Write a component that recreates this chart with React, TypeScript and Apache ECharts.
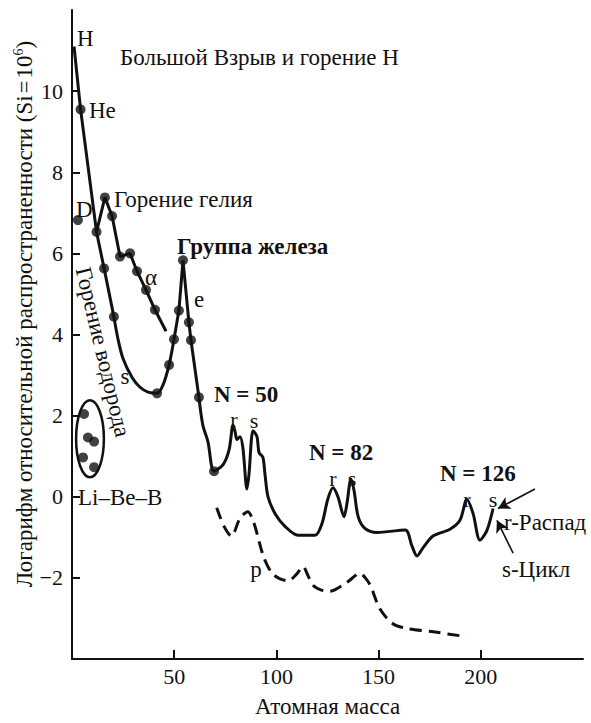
import React, { useEffect, useRef } from 'react';
import * as echarts from 'echarts';

// H burning (straight part)
const hLine = [[1, 11.1], [4.2, 9.55], [12, 6.53], [15.7, 5.63], [20.5, 4.44]];
// s-process trough
const sCurve = [[20.5, 4.44], [22.5, 3.89], [25, 3.4], [29.4, 2.94], [33.3, 2.7], [37.2, 2.58], [41.6, 2.55], [44.5, 2.75], [47.5, 3.25], [49.9, 3.88]];
// iron group peak
const feLine = [[49.9, 3.88], [52.3, 4.59], [54.3, 5.83], [57.2, 4.3], [58.2, 3.86], [62.1, 2.45]];
// heavy elements tail
const tail = [[62.1, 2.45], [64, 1.77], [66.5, 1.36], [69.5, 0.63], [74, 0.8], [76.9, 1.17], [78.8, 1.77], [79.8, 1.6], [80.7, 1.41], [82.2, 1.48], [83.6, 1.21], [85.6, 0.19], [86.6, 0.56], [88.6, 1.63], [90.5, 1.48], [91.5, 1.09], [93.4, 0.97], [94.4, 0.56], [95.9, 0], [99.3, -0.41], [104.2, -0.73], [110.6, -0.95], [118.9, -0.95], [122.3, -0.66], [125.2, -0.05], [127.7, 0.22], [130.1, 0], [133.1, -0.49], [134.5, -0.17], [136.5, 0.44], [138, 0.15], [140, -0.49], [143.3, -0.78], [149.2, -0.88], [163, -0.82], [166.3, -1.21], [168.8, -1.46], [171.7, -1.26], [176.6, -0.97], [184.9, -0.8], [189.8, -0.58], [193.2, -0.07], [196.2, -0.41], [199.6, -1.07], [203, -0.83], [206, -0.29]];
// helium burning (alpha)
const alphaLine = [[12, 6.53], [16.1, 7.38], [19.6, 6.92], [23.5, 5.92], [28.4, 6.0], [31.8, 5.56], [36.2, 5.1], [40.6, 4.61], [46, 4.08]];
// p-process (dashed)
const pCurve = [[70.8, -0.27], [74.4, -0.73], [78, -0.97], [82.2, -0.53], [86, -0.37], [89, -0.65], [93.6, -1.46], [97.6, -1.87], [101.5, -2.02], [105.8, -2.07], [110, -1.9], [113, -1.72], [115.5, -1.95], [118, -2.19], [122, -2.3], [126, -2.33], [134.5, -2.11], [141, -1.89], [143.5, -2.0], [146, -2.19], [150.7, -2.77], [157, -3.13], [164, -3.25], [176.7, -3.33], [193, -3.45]];
// measured points
const dots = [[4.2, 9.55], [2.9, 6.82], [12, 6.53], [15.7, 5.63], [20.5, 4.44], [41.6, 2.55], [47.5, 3.25], [49.9, 3.88], [52.3, 4.59], [54.3, 5.83], [57.2, 4.3], [58.2, 3.86], [62.1, 2.45], [69.5, 0.63], [16.1, 7.38], [19.6, 6.92], [23.5, 5.92], [28.4, 6.0], [31.8, 5.56], [36.2, 5.1], [40.6, 4.61], [5.9, 2.04], [7.8, 1.46], [10.8, 1.36], [5.4, 0.97], [10.8, 0.73]];
// Li-Be-B ellipse: centre x, centre y, half width, half height
const liBeBEllipse = [[8.8, 1.43, 6.8, 0.95]];
// arrows: [from, to]
const arrowR = [[226.5, 0.19], [208.4, -0.29]];
const arrowS = [[215.8, -1.39], [207.9, -0.58]];

const xTicks = [50, 100, 150, 200];
const yTicks = [-2, 0, 2, 4, 6, 8, 10];

const FONT = 'Liberation Serif';
const INK = '#111111';
const FS = 23;

function txt(text: string, x: number, y: number, opts: any = {}) {
  return {
    type: 'text',
    x,
    y,
    rotation: opts.rotation || 0,
    silent: true,
    style: {
      text,
      fontFamily: FONT,
      fontSize: opts.size || FS,
      fontWeight: opts.bold ? 'bold' : 'normal',
      fill: INK,
      align: opts.align || 'left',
      verticalAlign: 'middle',
      rich: opts.rich,
    },
  };
}

export default function App() {
  const ref = useRef<HTMLDivElement>(null);
  useEffect(() => {
    if (!ref.current) return;
    const chart = echarts.init(ref.current, null, { renderer: 'svg' });
    const lineBase = {
      type: 'line',
      showSymbol: false,
      symbol: 'none',
      silent: true,
      lineStyle: { color: INK, width: 3 },
      z: 3,
    };
    chart.setOption({
      animation: false,
      backgroundColor: '#ffffff',
      textStyle: { fontFamily: FONT },
      grid: { left: 72, right: 8, top: 10, bottom: 56, containLabel: false },
      xAxis: {
        type: 'value',
        min: 0,
        max: 250,
        interval: 50,
        name: 'Атомная масса',
        nameLocation: 'middle',
        nameGap: 36,
        nameTextStyle: { fontFamily: FONT, fontSize: 23, color: INK },
        axisLine: { onZero: false, lineStyle: { color: INK, width: 2 } },
        axisTick: { inside: true, length: 9, lineStyle: { color: INK, width: 2 }, customValues: xTicks },
        axisLabel: { fontFamily: FONT, fontSize: 22, color: INK, margin: 6, customValues: xTicks },
        splitLine: { show: false },
      },
      yAxis: {
        type: 'value',
        min: -4,
        max: 12,
        interval: 2,
        axisLine: { show: true, onZero: false, lineStyle: { color: INK, width: 2 } },
        axisTick: { show: true, inside: true, length: 8, lineStyle: { color: INK, width: 2 }, customValues: yTicks },
        axisLabel: {
          fontFamily: FONT,
          fontSize: 22,
          color: INK,
          margin: 9,
          customValues: yTicks,
          formatter: (v: number) => (v < 0 ? '\u2212' + Math.abs(v) : String(v)),
        },
        splitLine: { show: false },
      },
      graphic: [
        txt('H', 77, 38),
        txt('Большой Взрыв и горение H', 120, 57),
        txt('He', 89, 110),
        txt('D', 76, 209),
        txt('Горение гелия', 114, 199),
        txt('Группа железа', 177, 246, { bold: true }),
        txt('α', 151, 277, { align: 'center' }),
        txt('e', 199, 299, { align: 'center' }),
        txt('s', 125, 376, { align: 'center' }),
        txt('Горение водорода', 103, 352, { align: 'center', rotation: -76.5 * Math.PI / 180 }),
        txt('N = 50', 214, 394, { bold: true }),
        txt('r', 234, 419, { align: 'center', size: 22 }),
        txt('s', 254, 420, { align: 'center', size: 22 }),
        txt('N = 82', 309, 452, { bold: true }),
        txt('r', 333, 478, { align: 'center', size: 22 }),
        txt('s', 352, 478, { align: 'center', size: 22 }),
        txt('N = 126', 440, 473, { bold: true }),
        txt('r', 467, 499, { align: 'center', size: 22 }),
        txt('s', 493, 499, { align: 'center', size: 22 }),
        txt('r-Распад', 504, 522),
        txt('s-Цикл', 502, 569),
        txt('p', 256, 569, { align: 'center' }),
        txt('Li–Be–B', 78, 497),
        txt('Логарифм относительной распространенности (Si{eq|=}10{sup|6})', 24, 314, {
          align: 'center',
          size: 23,
          rotation: Math.PI / 2,
          rich: {
            eq: { fontFamily: FONT, fontSize: 23, fill: INK, padding: [0, 2, 0, 2] },
            sup: { fontFamily: FONT, fontSize: 14, fill: INK, padding: [0, 0, 12, 0] },
          },
        }),
      ],
      series: [
        { ...lineBase, name: 'hLine', data: hLine },
        { ...lineBase, name: 'sCurve', data: sCurve, smooth: 0.3 },
        { ...lineBase, name: 'feLine', data: feLine },
        { ...lineBase, name: 'tail', data: tail, smooth: 0.3 },
        { ...lineBase, name: 'alpha', data: alphaLine },
        {
          ...lineBase,
          name: 'p',
          data: pCurve,
          smooth: 0.3,
          lineStyle: { color: INK, width: 3, type: [12, 7] },
        },
        {
          type: 'scatter',
          name: 'dots',
          data: dots,
          symbol: 'circle',
          symbolSize: 10,
          silent: true,
          itemStyle: { color: INK },
          z: 5,
          markLine: {
            silent: true,
            symbol: ['none', 'arrow'],
            symbolSize: [10, 12],
            label: { show: false },
            lineStyle: { color: INK, width: 1.6, type: 'solid' },
            data: [
              [{ coord: arrowR[0] }, { coord: arrowR[1] }],
              [{ coord: arrowS[0] }, { coord: arrowS[1] }],
            ],
          },
        },
        {
          type: 'custom',
          name: 'LiBeB',
          data: liBeBEllipse,
          silent: true,
          encode: { x: 0, y: 1 },
          renderItem: (params: any, api: any) => {
            const c = api.coord([api.value(0), api.value(1)]);
            const s = api.size([api.value(2), api.value(3)]);
            return {
              type: 'ellipse',
              shape: { cx: c[0], cy: c[1], rx: s[0], ry: s[1] },
              style: { fill: 'none', stroke: INK, lineWidth: 2.5 },
            };
          },
          z: 4,
        },
      ],
    });
    return () => chart.dispose();
  }, []);
  return (
    <div
      ref={ref}
      style={{ position: 'absolute', left: 0, top: 0, width: 591, height: 723, background: '#fff' }}
    />
  );
}
